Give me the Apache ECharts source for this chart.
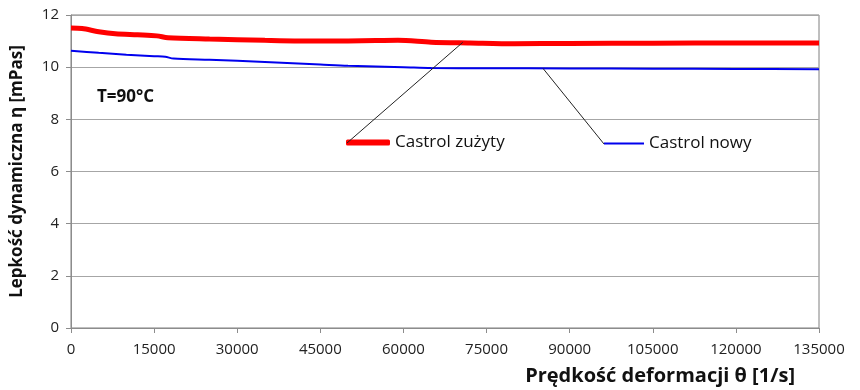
<!DOCTYPE html>
<html><head><meta charset="utf-8">
<script src="https://cdn.jsdelivr.net/npm/echarts@6/dist/echarts.min.js"></script>
<style>html,body{margin:0;padding:0;background:#fff}#c{width:860px;height:390px}</style>
</head><body><div id="c"></div>
<script>
const xTicks = [0,15000,30000,45000,60000,75000,90000,105000,120000,135000];
const yTicks = [0,2,4,6,8,10,12];
const usedX = [0,2000,5000,8000,12000,15500,17500,25000,35000,45000,55000,59000,65000,72000,80000,90000,105000,120000,135000];
const usedY = [11.5,11.48,11.36,11.28,11.24,11.2,11.13,11.08,11.03,11.0,11.02,11.03,10.96,10.93,10.9,10.91,10.92,10.93,10.93];
const newX = [0,5000,10000,15000,17000,18500,25000,35000,45000,50000,60000,65000,75000,90000,105000,120000,135000];
const newY = [10.63,10.55,10.48,10.42,10.4,10.33,10.28,10.2,10.1,10.05,10.0,9.97,9.96,9.95,9.94,9.93,9.92];
const seriesNames = ['Castrol zużyty','Castrol nowy'];
const tempLabel = 'T=90°C';
const xTitle = 'Prędkość deformacji θ [1/s]';
const yTitle = 'Lepkość dynamiczna η [mPas]';
const leaderAnchors = [[70700,10.95],[85200,9.95]];

const font = '"Open Sans", sans-serif';
const chart = echarts.init(document.getElementById('c'));
const option = {
  animation:false,
  textStyle:{fontFamily:font},
  grid:{left:71,right:41,top:15,bottom:62,show:true,borderColor:'#7f7f7f',borderWidth:1},
  title:{text:tempLabel,left:92,top:84,textStyle:{fontFamily:font,fontWeight:'bold',fontSize:17,color:'#111'}},
  legend:[
    {data:[seriesNames[0]],left:346,top:134,padding:0,itemWidth:44,itemHeight:6,icon:'roundRect',itemGap:13,
      textStyle:{fontFamily:font,fontSize:17,color:'#111'}},
    {data:[seriesNames[1]],left:604,top:135,padding:0,itemWidth:40,itemHeight:2,icon:'rect',itemGap:14,
      textStyle:{fontFamily:font,fontSize:17,color:'#111'}}
  ],
  xAxis:{type:'value',min:0,max:135000,interval:15000,
    name:xTitle,nameLocation:'end',nameGap:0,
    nameTextStyle:{fontFamily:font,fontWeight:'bold',fontSize:20,color:'#111',align:'right',verticalAlign:'top',padding:[38,24,0,0]},
    axisLine:{lineStyle:{color:'#8c8c8c'}},axisTick:{show:true,length:5,lineStyle:{color:'#8c8c8c'}},
    axisLabel:{fontFamily:font,fontSize:15,color:'#222',margin:14,formatter:v=>String(v)},
    splitLine:{show:false}},
  yAxis:{type:'value',min:0,max:12,interval:2,
    name:yTitle,nameLocation:'middle',nameGap:45,nameRotate:90,
    nameTextStyle:{fontFamily:font,fontWeight:'bold',fontSize:17,color:'#111'},
    axisLine:{show:true,lineStyle:{color:'#8c8c8c'}},axisTick:{show:true,length:5,lineStyle:{color:'#8c8c8c'}},
    axisLabel:{fontFamily:font,fontSize:15,color:'#222',margin:12},
    splitLine:{show:true,lineStyle:{color:'#a6a6a6',width:1}}},
  series:[
    {name:seriesNames[0],type:'line',showSymbol:false,smooth:0.3,data:usedX.map((x,i)=>[x,usedY[i]]),
      lineStyle:{color:'#ff0000',width:5},itemStyle:{color:'#ff0000'},z:3},
    {name:seriesNames[1],type:'line',showSymbol:false,smooth:0.3,data:newX.map((x,i)=>[x,newY[i]]),
      lineStyle:{color:'#0000ee',width:2},itemStyle:{color:'#0000ee'},z:4}
  ]
};
chart.setOption(option);
const a = chart.convertToPixel({gridIndex:0}, leaderAnchors[0]);
const b = chart.convertToPixel({gridIndex:0}, leaderAnchors[1]);
chart.setOption({graphic:[
  {type:'line',shape:{x1:347,y1:143,x2:a[0],y2:a[1]},style:{stroke:'#222',lineWidth:1},z:10},
  {type:'line',shape:{x1:604,y1:144,x2:b[0],y2:b[1]},style:{stroke:'#222',lineWidth:1},z:10}
]});
</script></body></html>
